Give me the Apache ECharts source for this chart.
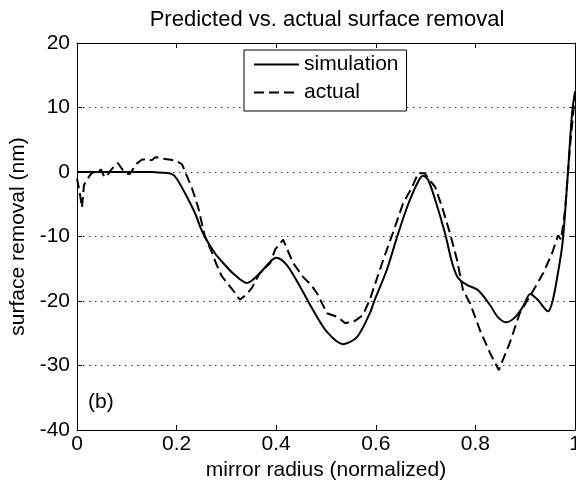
<!DOCTYPE html>
<html>
<head>
<meta charset="utf-8">
<script src="https://cdn.jsdelivr.net/npm/echarts@6/dist/echarts.min.js"></script>
<style>
  html, body { margin: 0; padding: 0; background: #fff; }
  #chart { width: 576px; height: 482px; }
</style>
</head>
<body>
<div id="chart"></div>
<script>
// simulation curve (normalized radius, nm)
const simX = [0, 0.05, 0.10, 0.15, 0.17, 0.19, 0.20, 0.217, 0.237, 0.253, 0.277, 0.297, 0.313,
  0.341, 0.367, 0.388, 0.40, 0.421, 0.448, 0.474, 0.502, 0.534, 0.562, 0.588, 0.598, 0.622,
  0.643, 0.665, 0.685, 0.695, 0.705, 0.72, 0.739, 0.753, 0.765, 0.783, 0.805, 0.83, 0.845,
  0.862, 0.88, 0.896, 0.91, 0.925, 0.946, 0.955, 0.965, 0.975, 0.985, 0.994, 1.0];
const simY = [0, 0, 0, 0, -0.1, -0.3, -1, -3.3, -6.4, -9.5, -12.6, -14.4, -15.7,
  -17.2, -15.7, -13.9, -13.3, -14.4, -17.8, -21.4, -24.8, -26.7, -25.6, -21.9, -19.8, -15.2,
  -10, -5, -1.5, -0.6, -1.2, -4.5, -9.5, -14, -16.4, -17.5, -18.3, -20.7, -22.5,
  -23.3, -22.5, -20.8, -18.9, -19.8, -21.6, -20, -16, -11, -1, 9, 12.5];

// measured curve
const actX = [0, 0.005, 0.01, 0.014, 0.02, 0.026, 0.032, 0.04, 0.048, 0.055, 0.06, 0.068, 0.076,
  0.082, 0.09, 0.098, 0.106, 0.112, 0.12, 0.13, 0.14, 0.15, 0.157, 0.167, 0.177, 0.188, 0.2,
  0.211, 0.22, 0.23, 0.243, 0.257, 0.271, 0.281, 0.291, 0.313, 0.327, 0.34, 0.351, 0.367, 0.388,
  0.398, 0.414, 0.42, 0.434, 0.454, 0.47, 0.482, 0.502, 0.524, 0.538, 0.554, 0.574, 0.588,
  0.615, 0.635, 0.655, 0.672, 0.685, 0.698, 0.719, 0.733, 0.749, 0.763, 0.775, 0.789, 0.809,
  0.829, 0.847, 0.869, 0.889, 0.913, 0.936, 0.954, 0.966, 0.972, 0.98, 0.99, 1.0];
const actY = [-1, -3, -5.5, -2, -1.2, -0.5, 0, -0.2, 0.4, -0.8, -0.6, 0.3, 1,
  1.4, 0.5, -0.2, -0.3, 0.4, 1.3, 1.9, 2, 1.8, 2.3, 2.2, 2, 1.9, 1.7,
  1.2, -0.5, -2.3, -5.4, -10, -12.5, -14.5, -16.2, -18.3, -19.8, -19, -18, -15.7, -14.1,
  -12, -10.5, -11.6, -14.1, -16.3, -17.5, -18.8, -21.9, -22.5, -23.4, -23.3, -22.2, -19.8,
  -13.6, -9.3, -4.8, -2.5, -0.2, -0.2, -2.3, -5.4, -9.5, -13.6, -18.3, -20.3, -24.5,
  -28, -30.7, -26.5, -21.9, -18.8, -15.7, -12.6, -9.8, -10.5, -6, 4, 12];

const xTicks = [0, 0.2, 0.4, 0.6, 0.8, 1];
const yTicks = [-40, -30, -20, -10, 0, 10, 20];

const font = 'Liberation Sans';
const chart = echarts.init(document.getElementById('chart'));

const pairs = (xs, ys) => xs.map((x, i) => [x, ys[i]]);

const tickStyle = { show: true, inside: true, length: 5, lineStyle: { color: '#000', width: 1 } };
const axisLine = { show: true, onZero: false, lineStyle: { color: '#000', width: 1 } };

chart.setOption({
  animation: false,
  backgroundColor: '#fff',
  title: {
    text: 'Predicted vs. actual surface removal',
    left: 327,
    top: 9,
    padding: 0,
    textAlign: 'center',
    textStyle: { fontFamily: font, fontSize: 22, fontWeight: 'normal', color: '#000' }
  },
  legend: {
    orient: 'vertical',
    left: 244,
    top: 50,
    padding: [4, 8, 8, 9],
    backgroundColor: '#fff',
    borderColor: '#000',
    borderWidth: 1,
    borderRadius: 0,
    itemWidth: 45,
    itemHeight: 14,
    itemGap: 7,
    itemStyle: { opacity: 0 },
    textStyle: { fontFamily: font, fontSize: 21, lineHeight: 21, color: '#000' },
    data: ['simulation', 'actual']
  },
  grid: { left: 77, right: 1, top: 43, bottom: 52, containLabel: false, outerBoundsMode: 'none' },
  xAxis: [{
    type: 'value',
    min: xTicks[0],
    max: xTicks[xTicks.length - 1],
    interval: 0.2,
    name: 'mirror radius (normalized)',
    nameLocation: 'middle',
    nameGap: 25,
    nameTextStyle: { fontFamily: font, fontSize: 21, color: '#000' },
    axisLine: axisLine,
    axisTick: tickStyle,
    axisLabel: { fontFamily: font, fontSize: 21, color: '#000', margin: 4 },
    splitLine: { show: false }
  }, {
    type: 'value',
    position: 'top',
    min: xTicks[0],
    max: xTicks[xTicks.length - 1],
    interval: 0.2,
    axisLine: axisLine,
    axisTick: tickStyle,
    axisLabel: { show: false },
    splitLine: { show: false }
  }],
  yAxis: [{
    type: 'value',
    min: yTicks[0],
    max: yTicks[yTicks.length - 1],
    interval: 10,
    name: 'surface removal (nm)',
    nameLocation: 'middle',
    nameGap: 43,
    nameTextStyle: { fontFamily: font, fontSize: 21, color: '#000' },
    axisLine: axisLine,
    axisTick: tickStyle,
    axisLabel: { fontFamily: font, fontSize: 21, color: '#000', margin: 7 },
    splitLine: { show: true, lineStyle: { color: '#333', width: 1, type: [1.5, 4.5] } }
  }, {
    type: 'value',
    position: 'right',
    min: yTicks[0],
    max: yTicks[yTicks.length - 1],
    interval: 10,
    axisLine: axisLine,
    axisTick: tickStyle,
    axisLabel: { show: false },
    splitLine: { show: false }
  }],
  graphic: [{
    type: 'text',
    left: 88,
    top: 392,
    style: { text: '(b)', fontFamily: font, fontSize: 21, fill: '#000' }
  }],
  series: [{
    name: 'simulation',
    type: 'line',
    data: pairs(simX, simY),
    symbol: 'none',
    smooth: 0.3,
    lineStyle: { color: '#000', width: 2 },
    itemStyle: { color: '#000' }
  }, {
    name: 'actual',
    type: 'line',
    data: pairs(actX, actY),
    symbol: 'none',
    smooth: false,
    lineStyle: { color: '#000', width: 2, type: [10, 5] },
    itemStyle: { color: '#000' }
  }]
});
</script>
</body>
</html>
